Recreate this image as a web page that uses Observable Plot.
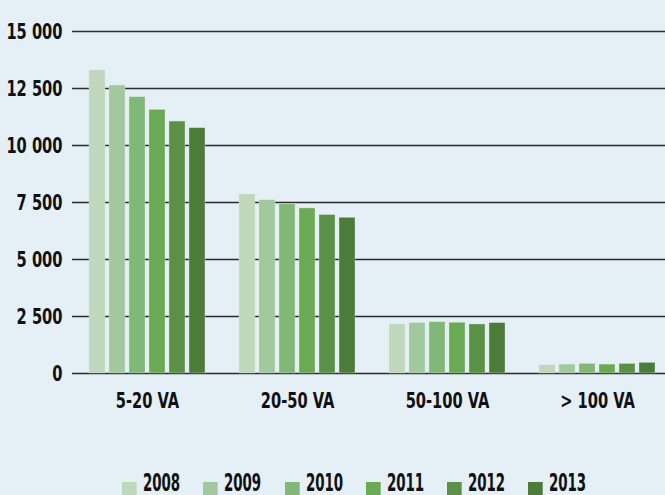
<!DOCTYPE html>
<html>
<head>
<meta charset="utf-8">
<script src="https://cdn.jsdelivr.net/npm/d3@7"></script>
<script src="https://cdn.jsdelivr.net/npm/@observablehq/plot@0.6"></script>
<style>
  html, body { margin: 0; padding: 0; background: #e4eff6; }
  body { width: 665px; height: 495px; overflow: hidden; font-family: "DejaVu Sans Condensed", "DejaVu Sans", sans-serif; font-stretch: condensed; }
  #chart svg { display: block; }
  #legend { margin-left: 122px; margin-top: 26px; display: flex; gap: 0; line-height: 24px; }
  #legend > span { width: 81.3px; flex: none; margin-right: 0 !important; display: inline-flex; align-items: center; transform: scaleX(0.62); transform-origin: left center; }
  #legend > span > svg { margin-right: 10px !important; position: relative; top: 7px; }
</style>
</head>
<body>
<div id="chart"></div>
<script>
const categories = ["5-20 VA", "20-50 VA", "50-100 VA", "> 100 VA"];
const years = ["2008", "2009", "2010", "2011", "2012", "2013"];
const v2008 = [13290, 7850, 2150, 360];
const v2009 = [12630, 7600, 2210, 390];
const v2010 = [12120, 7430, 2250, 420];
const v2011 = [11560, 7240, 2225, 390];
const v2012 = [11050, 6950, 2150, 420];
const v2013 = [10760, 6830, 2210, 465];
const yTicks = [0, 2500, 5000, 7500, 10000, 12500, 15000];
const colors = ["#bfd8bc", "#a2c89e", "#80b878", "#6aaa52", "#5a9146", "#4c7c3a"];

const series = [v2008, v2009, v2010, v2011, v2012, v2013];
const data = [];
categories.forEach((c, i) => years.forEach((y, j) => data.push({cat: c, year: y, value: series[j][i]})));

const fmt = d3.formatLocale({thousands: " ", grouping: [3], decimal: ","}).format(",");
const fontStyle = {fontFamily: "'DejaVu Sans Condensed', 'DejaVu Sans', sans-serif", fontStretch: "condensed", fontSize: "22px", fontWeight: "bold", color: "#111"};

const chart = Plot.plot({
  width: 665,
  height: 440,
  marginTop: 31,
  marginBottom: 67,
  marginLeft: 72,
  marginRight: 0,
  style: {background: "transparent", ...fontStyle},
  fx: {domain: categories, range: [72, 672], padding: 0, label: null},
  x: {domain: years, paddingInner: 0.2, paddingOuter: 0.85, axis: null},
  y: {domain: [0, 15000], label: null},
  color: {domain: years, range: colors},
  marks: [
    Plot.ruleY(yTicks, {stroke: "#2a2a2a", strokeWidth: 1.5}),
    Plot.barY(data, {fx: "cat", x: "year", y: "value", fill: "year", stroke: "#dfece0", strokeWidth: 0.6, strokeOpacity: 0.6}),
    Plot.axisY({ticks: yTicks, tickFormat: fmt, tickSize: 0, tickPadding: 10, anchor: "left", label: null}),
    Plot.axisFx({tickSize: 0, tickPadding: 19, label: null, anchor: "bottom"})
  ]
});
document.getElementById("chart").appendChild(chart);

// condense the axis texts (the reference uses a narrow typeface)
chart.querySelectorAll("text").forEach(t => {
  const w = t.getComputedTextLength();
  if (w > 0) {
    t.setAttribute("textLength", (w * 0.74).toFixed(1));
    t.setAttribute("lengthAdjust", "spacingAndGlyphs");
  }
});

const legend = Plot.legend({
  color: {domain: years, range: colors},
  legend: "swatches",
  swatchWidth: 23.7,
  swatchHeight: 16,
  style: {...fontStyle, fontSize: "24px"}
});
legend.id = "legend";
document.body.appendChild(legend);
</script>
</body>
</html>
